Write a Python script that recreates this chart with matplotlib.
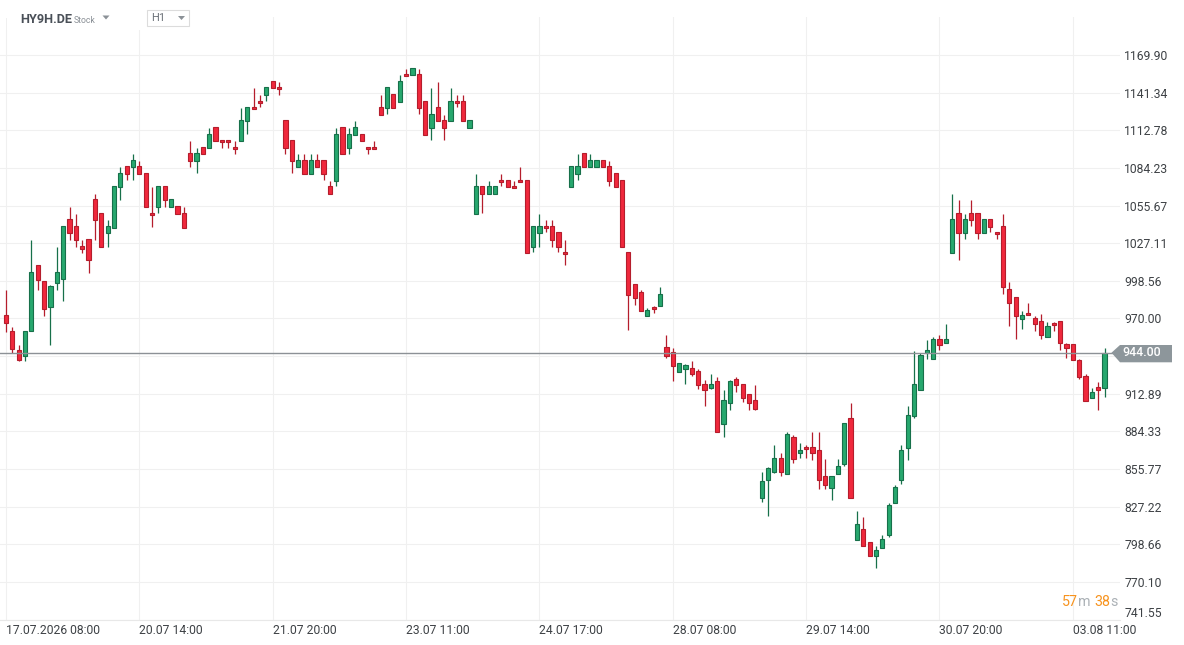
import matplotlib
matplotlib.use("Agg")

import matplotlib.pyplot as plt
from matplotlib.patches import Polygon, Rectangle

# ── Data (H1 candles, HY9H.DE) ──────────────────────────────────────
opens = [
    972.6, 960.5, 945.9, 941.3, 960.7, 1010.3, 998.4, 978.9, 997.2, 999.7,
    1045.2, 1039.9, 1025.0, 1030.3, 1060.4, 1049.8, 1034.6, 1038.9, 1069.5, 1085.7,
    1084.7, 1085.7, 1080.4, 1049.8, 1054.4, 1070.3, 1054.4, 1055.1, 1049.8, 1095.3,
    1089.3, 1100.1, 1099.1, 1115.1, 1105.2, 1105.2, 1100.1, 1104.4, 1119.6, 1130.2,
    1134.8, 1139.3, 1149.9, 1145.4, 1120.4, 1105.2, 1084.7, 1090.0, 1079.4, 1090.0,
    1090.0, 1070.3, 1074.1, 1115.1, 1099.1, 1109.0, 1109.7, 1099.9, 1099.9, 1130.2,
    1129.5, 1140.1, 1134.0, 1155.3, 1154.5, 1155.3, 1134.8, 1114.3, 1130.2, 1120.4,
    1119.6, 1134.8, 1134.8, 1114.3, 1049.0, 1070.3, 1064.2, 1064.2, 1074.8, 1074.8,
    1070.3, 1074.8, 1074.8, 1024.0, 1034.6, 1039.9, 1039.9, 1035.4, 1020.2, 1069.5,
    1079.4, 1095.3, 1084.7, 1084.7, 1090.0, 1085.5, 1080.2, 1074.8, 1020.2, 995.9,
    989.9, 971.7, 978.5, 979.2, 948.1, 944.3, 929.2, 931.4, 932.2, 929.9,
    920.1, 917.0, 922.3, 889.7, 905.6, 923.9, 920.1, 912.5, 907.9, 833.6,
    847.2, 853.3, 863.9, 851.8, 879.9, 867.7, 872.3, 872.3, 870.0, 850.3,
    841.2, 851.8, 859.4, 894.3, 801.7, 810.1, 800.2, 789.6, 795.6, 805.5,
    829.8, 847.2, 871.5, 895.8, 915.5, 943.6, 939.0, 954.2, 951.2, 1019.5,
    1049.8, 1034.6, 1049.8, 1049.8, 1034.6, 1045.2, 1035.4, 1039.9, 992.1, 986.1,
    969.4, 973.9, 970.1, 967.9, 955.7, 966.3, 967.9, 950.4, 950.4, 938.3,
    926.1, 909.4, 917.8, 917.0,
]
highs = [
    991.6, 963.3, 949.9, 960.5, 1029.5, 1010.3, 998.4, 995.4, 1024.2, 1039.9,
    1054.4, 1049.3, 1029.5, 1030.3, 1064.4, 1049.8, 1044.7, 1070.3, 1085.2, 1085.7,
    1094.8, 1089.3, 1080.4, 1069.5, 1070.3, 1070.3, 1060.4, 1055.1, 1054.4, 1104.7,
    1099.1, 1100.1, 1114.3, 1115.1, 1105.2, 1105.2, 1104.7, 1129.9, 1130.2, 1145.1,
    1139.6, 1145.4, 1149.9, 1149.2, 1120.4, 1105.2, 1094.6, 1094.6, 1094.6, 1094.6,
    1090.0, 1074.1, 1114.3, 1115.1, 1114.3, 1119.6, 1109.7, 1099.9, 1104.4, 1139.3,
    1145.4, 1140.1, 1154.5, 1159.1, 1159.8, 1159.1, 1134.8, 1144.6, 1149.2, 1124.2,
    1144.6, 1139.3, 1139.3, 1120.4, 1079.4, 1070.3, 1074.1, 1070.3, 1079.4, 1074.8,
    1074.1, 1084.7, 1074.8, 1039.9, 1049.0, 1044.5, 1044.5, 1035.4, 1029.3, 1085.5,
    1094.8, 1095.3, 1094.8, 1090.0, 1090.0, 1089.3, 1080.2, 1074.8, 1020.2, 995.9,
    991.4, 977.7, 979.2, 993.9, 957.2, 947.4, 936.0, 935.2, 937.5, 931.4,
    923.1, 927.6, 925.4, 915.5, 923.1, 925.4, 920.1, 912.5, 919.3, 853.3,
    857.1, 873.8, 867.7, 883.6, 881.4, 875.3, 873.8, 883.6, 883.6, 863.2,
    850.3, 863.2, 890.5, 905.6, 823.7, 819.2, 800.2, 797.2, 805.5, 829.8,
    843.4, 873.8, 903.4, 945.1, 943.6, 953.4, 955.7, 957.2, 965.6, 1064.2,
    1059.7, 1049.0, 1059.7, 1049.8, 1045.2, 1045.2, 1035.4, 1049.0, 997.5, 986.1,
    975.5, 981.5, 971.7, 973.2, 967.1, 967.1, 967.9, 951.2, 950.4, 939.0,
    927.6, 917.0, 921.6, 947.4,
]
lows = [
    960.0, 944.0, 938.0, 938.0, 960.7, 991.6, 972.1, 949.9, 991.6, 983.5,
    1029.5, 1024.2, 1019.5, 1004.7, 1029.5, 1024.0, 1024.2, 1038.9, 1059.9, 1074.8,
    1074.8, 1079.4, 1054.4, 1039.6, 1049.8, 1054.4, 1054.4, 1049.0, 1038.9, 1085.2,
    1080.2, 1094.6, 1099.1, 1104.4, 1099.6, 1099.6, 1094.8, 1104.4, 1109.7, 1128.7,
    1130.2, 1134.8, 1144.6, 1139.8, 1094.8, 1080.0, 1084.7, 1079.4, 1079.4, 1084.7,
    1074.8, 1064.2, 1070.3, 1094.6, 1095.0, 1109.0, 1104.4, 1095.0, 1098.4, 1124.2,
    1124.9, 1129.5, 1134.0, 1153.7, 1154.5, 1124.9, 1109.0, 1105.2, 1119.6, 1105.2,
    1119.6, 1130.2, 1119.6, 1114.3, 1049.0, 1049.8, 1064.2, 1064.2, 1070.3, 1069.5,
    1068.8, 1073.3, 1019.5, 1020.2, 1024.5, 1035.4, 1024.5, 1020.2, 1010.2, 1069.5,
    1074.8, 1084.7, 1084.7, 1084.7, 1084.7, 1070.3, 1069.5, 1024.0, 961.5, 980.0,
    975.5, 971.7, 973.9, 979.2, 939.8, 922.3, 929.2, 920.1, 926.1, 916.3,
    903.8, 916.3, 883.6, 879.9, 900.3, 914.0, 906.4, 900.3, 900.3, 830.5,
    819.9, 852.5, 850.3, 851.8, 860.1, 863.9, 863.9, 862.4, 840.4, 840.4,
    832.1, 851.8, 857.9, 833.6, 801.7, 797.2, 789.6, 780.5, 795.6, 804.0,
    829.8, 844.2, 862.4, 894.3, 915.5, 939.0, 939.0, 945.9, 951.2, 1019.5,
    1014.6, 1030.1, 1039.9, 1030.1, 1034.6, 1035.4, 1030.1, 988.3, 964.1, 954.2,
    961.8, 972.4, 960.3, 954.2, 955.7, 960.3, 945.9, 939.8, 938.3, 923.9,
    907.2, 909.4, 900.3, 910.2,
]
closes = [
    966.8, 946.8, 938.7, 960.5, 1005.0, 999.2, 977.4, 994.6, 1005.0, 1039.9,
    1034.6, 1029.3, 1022.9, 1014.1, 1044.5, 1024.0, 1039.9, 1070.3, 1080.4, 1079.4,
    1090.0, 1079.4, 1054.4, 1048.3, 1070.3, 1059.7, 1060.4, 1049.0, 1038.9, 1089.3,
    1095.3, 1094.6, 1109.7, 1104.4, 1103.7, 1103.7, 1098.6, 1120.4, 1130.2, 1128.7,
    1133.3, 1145.4, 1144.6, 1143.9, 1099.0, 1089.3, 1090.0, 1079.4, 1090.0, 1084.7,
    1079.4, 1064.2, 1109.7, 1094.6, 1109.7, 1115.1, 1104.4, 1098.4, 1098.4, 1124.2,
    1145.4, 1129.5, 1149.9, 1153.7, 1159.8, 1129.5, 1109.0, 1124.9, 1119.6, 1114.3,
    1134.8, 1133.3, 1119.6, 1120.4, 1070.3, 1064.2, 1070.3, 1070.3, 1073.3, 1069.5,
    1068.8, 1073.3, 1019.5, 1039.9, 1039.9, 1038.4, 1029.3, 1024.0, 1018.7, 1085.5,
    1085.5, 1084.7, 1090.0, 1090.0, 1084.7, 1074.1, 1069.5, 1024.0, 987.6, 985.3,
    975.5, 976.2, 977.0, 988.3, 941.3, 933.7, 936.0, 934.5, 927.6, 919.3,
    915.5, 920.1, 883.6, 907.9, 922.3, 919.3, 909.4, 905.6, 901.1, 846.5,
    856.3, 863.9, 853.3, 882.1, 863.2, 870.0, 870.7, 867.7, 847.2, 843.4,
    850.3, 857.9, 890.5, 833.6, 813.8, 797.2, 789.6, 794.1, 802.5, 828.3,
    841.9, 870.0, 896.5, 920.1, 942.1, 945.9, 954.2, 949.7, 954.2, 1045.2,
    1034.6, 1045.2, 1044.5, 1034.6, 1045.2, 1039.2, 1033.9, 993.7, 981.5, 971.7,
    972.4, 972.4, 965.6, 957.2, 964.1, 964.8, 951.2, 947.4, 938.3, 925.4,
    907.2, 914.0, 915.5, 944.0,
]

last_price = 944.00
price_ticks = [741.55, 770.10, 798.66, 827.22, 855.77, 884.33, 912.89, 941.44,
               970.00, 998.56, 1027.11, 1055.67, 1084.23, 1112.78, 1141.34, 1169.90]
time_tick_idx = [0, 21, 42, 63, 84, 105, 126, 147, 168]
time_labels = ["17.07.2026 08:00", "20.07 14:00", "21.07 20:00", "23.07 11:00",
               "24.07 17:00", "28.07 08:00", "29.07 14:00", "30.07 20:00", "03.08 11:00"]
countdown = [("57", "num"), ("m", "unit"), ("38", "num"), ("s", "unit")]

# ── Style ───────────────────────────────────────────────────────────
W, H = 1184, 645
UP_FILL, UP_EDGE = "#27a86e", "#17704a"
DN_FILL, DN_EDGE = "#f0283c", "#b51d2c"
GRID = "#f0f0f0"
TXT = "#3d4145"

plt.rcParams["font.family"] = ["Roboto", "DejaVu Sans"]

def fx(px):
    return px / W

def fy(py):
    return 1 - py / H

fig = plt.figure(figsize=(W / 100, H / 100), dpi=100)
fig.patch.set_facecolor("white")
ax = fig.add_axes([0, 25.4 / H, 1120 / W, 602.6 / H])

# ── Candles ─────────────────────────────────────────────────────────
x = list(range(len(opens)))
up = [c >= o for o, c in zip(opens, closes)]
edge = [UP_EDGE if u else DN_EDGE for u in up]
fill = [UP_FILL if u else DN_FILL for u in up]
bottoms = [min(o, c) for o, c in zip(opens, closes)]
heights = [abs(c - o) for o, c in zip(opens, closes)]

ax.vlines(x, lows, highs, colors=edge, linewidth=0.9, zorder=2)
ax.bar(x, heights, bottom=bottoms, width=0.66, color=fill, edgecolor=edge,
       linewidth=0.8, zorder=3)

ax.axhline(last_price, color="#8c9196", linewidth=1.0, zorder=4)

# ── Axes ────────────────────────────────────────────────────────────
ax.set_xlim(-0.945, 175.43)
ax.set_ylim(741.55, 1198.73)

ax.yaxis.tick_right()
ax.set_yticks(price_ticks)
ax.set_yticklabels(["" if abs(t - 941.44) < 0.01 else f"{t:.2f}" for t in price_ticks])
ax.tick_params(axis="y", length=0, pad=3, labelsize=8.7, labelcolor=TXT)
ax.get_yticklabels()[0].set_va("bottom")

ax.set_xticks(time_tick_idx)
ax.set_xticklabels(time_labels, ha="left")
ax.tick_params(axis="x", length=0, pad=3, labelsize=8.7, labelcolor=TXT)

ax.grid(True, color=GRID, linewidth=0.8)
ax.set_axisbelow(True)
for side in ["top", "left", "right"]:
    ax.spines[side].set_visible(False)
ax.spines["bottom"].set_color("#e8e8e8")
ax.spines["bottom"].set_linewidth(0.8)

# ── Last price tag ──────────────────────────────────────────────────
tag_y = 352.7
tag = Polygon([(fx(1111.5), fy(tag_y)), (fx(1120), fy(345)), (fx(1172), fy(345)),
               (fx(1172), fy(362.3)), (fx(1120), fy(362.3))],
              closed=True, facecolor="#8d969b", edgecolor="none",
              transform=fig.transFigure, zorder=10)
fig.add_artist(tag)
fig.text(fx(1142), fy(tag_y), f"{last_price:.2f}", color="white", fontsize=8.9,
         fontweight="medium", ha="center", va="center", zorder=11)

# ── Countdown to candle close (pieces laid out left to right) ───────
renderer = fig.canvas.get_renderer()
cx = 1062.0
for s, kind in countdown:
    col = "#f7931e" if kind == "num" else "#aab0b5"
    t = fig.text(fx(cx), fy(606), s, color=col, fontsize=10.3, va="baseline")
    cx = t.get_window_extent(renderer).x1
    if s == "m":
        cx += 3.5

# ── Header ──────────────────────────────────────────────────────────
fig.add_artist(Rectangle((0, fy(30)), fx(200), 1 - fy(30), transform=fig.transFigure,
                         facecolor="white", edgecolor="none", zorder=8))
fig.add_artist(Rectangle((fx(6), fy(30)), fx(0.8), fy(18) - fy(30), transform=fig.transFigure,
                         facecolor=GRID, edgecolor="none", zorder=8.5))
fig.text(fx(20), fy(23), "HY9H.DE", color="#4a5058", fontsize=9.2,
         fontweight="bold", va="baseline", zorder=9)
fig.text(fx(73.5), fy(23), "Stock", color="#8b9197", fontsize=6.3, va="baseline", zorder=9)
fig.add_artist(Polygon([(fx(102.5), fy(15.5)), (fx(109.5), fy(15.5)), (fx(106), fy(19.5))],
                       closed=True, transform=fig.transFigure, facecolor="#8b9197",
                       edgecolor="none", zorder=9))
fig.add_artist(Rectangle((fx(146.5), fy(25.5)), fx(42.5), fy(10) - fy(25.5),
                         transform=fig.transFigure, facecolor="white",
                         edgecolor="#dcdcdc", linewidth=0.8, zorder=9))
fig.text(fx(151), fy(18), "H1", color="#6b7178", fontsize=8, va="center", zorder=10)
fig.add_artist(Polygon([(fx(178), fy(16)), (fx(185), fy(16)), (fx(181.5), fy(20))],
                       closed=True, transform=fig.transFigure, facecolor="#8b9197",
                       edgecolor="none", zorder=10))

fig.savefig("out.png", dpi=100)
